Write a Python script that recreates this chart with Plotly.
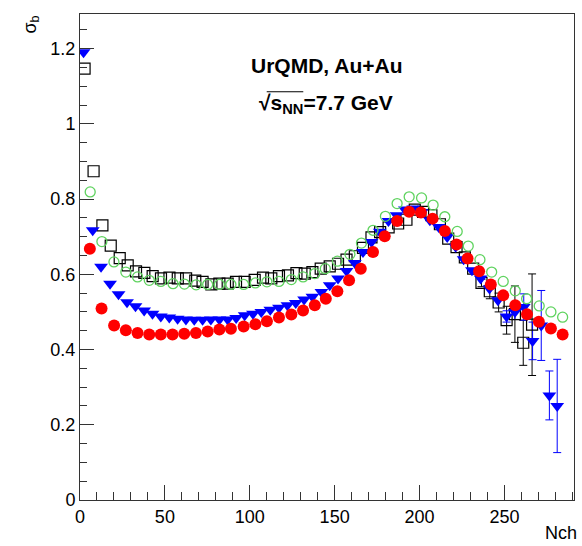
import plotly.graph_objects as go

# ---- data ----
red_x = [5.8, 12.7, 20.1, 27.0, 33.9, 40.8, 47.6, 54.5, 61.4, 68.3, 75.2, 82.1, 88.9,
         96.4, 103.3, 110.1, 117.2, 124.5, 131.4, 138.3, 144.8, 151.6, 158.5, 165.4,
         172.6, 179.5, 186.8, 193.9, 200.8, 207.7, 214.9, 221.8, 228.3, 235.1, 242.0,
         249.3, 256.4, 263.3, 270.3, 277.4, 284.3]
red_y = [0.668, 0.509, 0.464, 0.451, 0.444, 0.440, 0.440, 0.440, 0.442, 0.444, 0.448,
         0.453, 0.455, 0.461, 0.467, 0.475, 0.485, 0.493, 0.504, 0.518, 0.535, 0.555,
         0.584, 0.615, 0.659, 0.701, 0.742, 0.766, 0.764, 0.748, 0.715, 0.679, 0.642,
         0.608, 0.573, 0.544, 0.518, 0.494, 0.474, 0.456, 0.440]

green_x = [6.0, 12.9, 20.0, 27.0, 33.9, 40.8, 47.6, 54.8, 61.5, 68.4, 75.2, 82.1, 88.9,
           96.4, 103.3, 110.1, 117.2, 124.5, 131.4, 138.3, 144.5, 151.6, 159.0, 165.8,
           172.6, 179.9, 186.8, 193.9, 201.2, 208.0, 214.9, 222.2, 228.7, 235.6, 242.5,
           249.3, 256.4, 263.1, 270.5, 277.4, 284.3]
green_y = [0.819, 0.687, 0.633, 0.606, 0.593, 0.584, 0.581, 0.575, 0.574, 0.572, 0.573,
           0.573, 0.573, 0.573, 0.577, 0.580, 0.581, 0.586, 0.593, 0.602, 0.615, 0.635,
           0.653, 0.683, 0.717, 0.754, 0.788, 0.806, 0.803, 0.784, 0.753, 0.714, 0.675,
           0.639, 0.606, 0.581, 0.556, 0.535, 0.516, 0.500, 0.486]

blue_x = [2.1, 7.5, 12.4, 17.7, 22.7, 27.7, 32.7, 37.8, 42.7, 47.6, 52.6, 57.5, 62.4,
          67.3, 72.2, 77.1, 82.1, 87.0, 92.0, 97.0, 101.9, 106.8, 112.1, 117.2, 122.2,
          127.1, 132.0, 136.9, 142.2, 147.1, 152.0, 157.0, 161.9, 166.7, 171.7, 176.6,
          181.7, 186.5, 191.4, 196.3, 201.2, 206.1, 211.3, 216.3, 221.3, 226.0, 230.9,
          236.0, 241.2, 246.2, 251.3, 256.2, 261.4, 266.6, 271.7, 276.5, 281.1]
blue_y = [1.190, 0.717, 0.620, 0.575, 0.547, 0.526, 0.515, 0.504, 0.495, 0.488, 0.485,
          0.482, 0.480, 0.479, 0.479, 0.480, 0.480, 0.480, 0.484, 0.491, 0.495, 0.500,
          0.506, 0.511, 0.518, 0.524, 0.533, 0.540, 0.553, 0.571, 0.589, 0.609, 0.630,
          0.659, 0.686, 0.713, 0.742, 0.757, 0.772, 0.775, 0.765, 0.744, 0.726, 0.699,
          0.673, 0.640, 0.611, 0.589, 0.562, 0.531, 0.488, 0.500, 0.513, 0.423, 0.464,
          0.278, 0.250]
# statistical errors, visible only for the last bins (index of first visible bar)
blue_err_start = 50
blue_err = [0.015, 0.02, 0.035, 0.05, 0.093, 0.065, 0.124]

black_x = [2.7, 8.0, 13.2, 18.1, 23.4, 28.1, 33.0, 37.9, 42.8, 47.7, 52.7, 57.6, 62.5,
           67.9, 72.2, 77.4, 82.1, 87.0, 91.9, 97.0, 102.9, 107.8, 112.7, 117.2, 122.5,
           127.5, 132.4, 136.9, 141.8, 147.1, 152.0, 157.0, 161.9, 166.7, 171.7, 176.8,
           181.8, 187.4, 192.3, 197.2, 202.1, 207.0, 212.0, 216.9, 221.8, 226.7, 231.6,
           236.5, 241.4, 246.6, 251.3, 256.2, 261.1, 266.3]
black_y = [1.147, 0.874, 0.730, 0.676, 0.643, 0.624, 0.608, 0.604, 0.595, 0.589, 0.591,
           0.589, 0.589, 0.583, 0.580, 0.573, 0.575, 0.575, 0.580, 0.580, 0.585, 0.591,
           0.589, 0.595, 0.597, 0.603, 0.602, 0.606, 0.615, 0.621, 0.628, 0.639, 0.648,
           0.670, 0.698, 0.712, 0.725, 0.735, 0.745, 0.772, 0.766, 0.757, 0.733, 0.695,
           0.672, 0.645, 0.615, 0.577, 0.555, 0.525, 0.478, 0.494, 0.418, 0.466]
black_err_start = 47
black_err = [0.01, 0.02, 0.025, 0.037, 0.075, 0.06, 0.135]

x_ticks = [0, 50, 100, 150, 200, 250]
y_ticks = [0, 0.2, 0.4, 0.6, 0.8, 1.0, 1.2]
y_tick_text = ["0", "0.2", "0.4", "0.6", "0.8", "1", "1.2"]

FONT = "Liberation Sans, Arial, Helvetica, sans-serif"
CLEAR = "rgba(0,0,0,0)"

fig = go.Figure()
# error bars (drawn beneath the markers)
fig.add_trace(go.Scatter(
    x=black_x[black_err_start:], y=black_y[black_err_start:], mode="markers",
    error_y=dict(type="data", array=black_err, color="black", thickness=1, width=4),
    marker=dict(size=1, color=CLEAR), hoverinfo="skip", showlegend=False))
fig.add_trace(go.Scatter(
    x=blue_x[blue_err_start:], y=blue_y[blue_err_start:], mode="markers",
    error_y=dict(type="data", array=blue_err, color="#0000ff", thickness=1, width=4),
    marker=dict(size=1, color=CLEAR), hoverinfo="skip", showlegend=False))

fig.add_trace(go.Scatter(
    x=black_x, y=black_y, mode="markers",
    marker=dict(symbol="square-open", size=11, color="black", line=dict(width=1.2)),
    showlegend=False))
fig.add_trace(go.Scatter(
    x=blue_x, y=blue_y, mode="markers",
    marker=dict(symbol="triangle-down", size=12, color="#0000ff"),
    showlegend=False))
fig.add_trace(go.Scatter(
    x=green_x, y=green_y, mode="markers",
    marker=dict(symbol="circle-open", size=10, color="#5fd35f", line=dict(width=1.3)),
    showlegend=False))
fig.add_trace(go.Scatter(
    x=red_x, y=red_y, mode="markers",
    marker=dict(symbol="circle", size=12, color="#ff0000"),
    showlegend=False))

axis_common = dict(showgrid=False, zeroline=False, showline=True, linecolor="#333333",
                   linewidth=1, mirror=True, ticks="inside", tickcolor="#333333",
                   tickfont=dict(family=FONT, size=18, color="black"))
fig.update_xaxes(range=[0, 291], tickvals=x_ticks, ticklen=15,
                 minor=dict(dtick=10, ticklen=8, ticks="inside", tickcolor="#333333"),
                 **axis_common)
fig.update_yaxes(range=[0, 1.292], tickvals=y_ticks, ticktext=y_tick_text, ticklen=14,
                 minor=dict(dtick=0.05, ticklen=7, ticks="inside", tickcolor="#333333"),
                 **axis_common)

fig.add_annotation(text="<b>UrQMD, Au+Au</b>", xref="paper", yref="paper",
                   x=0.498, y=0.922, showarrow=False,
                   font=dict(family=FONT, size=21, color="black"))
fig.add_annotation(text="<b>√s<sub>NN</sub>=7.7 GeV</b>", xref="paper", yref="paper",
                   x=0.498, y=0.845, showarrow=False,
                   font=dict(family=FONT, size=21, color="black"))
fig.add_shape(type="line", xref="paper", yref="paper", x0=0.378, x1=0.452,
              y0=0.84, y1=0.84, line=dict(color="black", width=1))
fig.add_annotation(text="σ<sub>b</sub>", xref="paper", yref="paper",
                   x=-0.1, y=1.0, xanchor="center", yanchor="top",
                   textangle=-90, showarrow=False,
                   font=dict(family=FONT, size=18, color="black"))
fig.add_annotation(text="Nch", xref="paper", yref="paper",
                   x=1.0, y=-0.068, xanchor="right", yanchor="middle", xshift=4,
                   borderpad=0, showarrow=False,
                   font=dict(family=FONT, size=18, color="black"))

fig.update_layout(width=582, height=546, margin=dict(l=80, r=8, t=14, b=46),
                  plot_bgcolor="white", paper_bgcolor="white",
                  font=dict(family=FONT, size=18, color="black"))

fig.write_html("out.html", config={"displayModeBar": False},
               post_script="document.body.style.margin='0';")
